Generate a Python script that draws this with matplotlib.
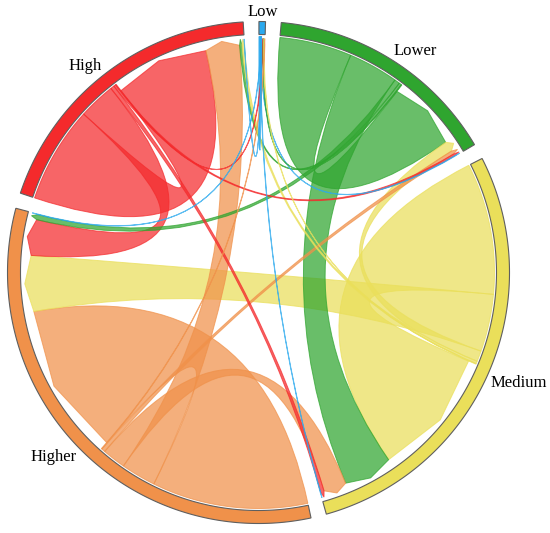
import numpy as np
import matplotlib.pyplot as plt
from matplotlib.path import Path
from matplotlib.patches import PathPatch

# sectors, clockwise from the top
names = ["Low", "Lower", "Medium", "Higher", "High"]
colors = ["#2AA9EE", "#2FA52F", "#EADF5A", "#F0914A", "#F42A2C"]

# flows from each class to [Low, Lower, Medium, Higher, High]
from_low = [0.2, 0.15, 0.12, 0.12, 0.05]
from_lower = [0.15, 17.6, 12.2, 1.3, 0.6]
from_medium = [0.15, 2.6, 32.0, 14.0, 0.6]
from_higher = [0.15, 0.9, 5.7, 38.0, 8.5]
from_high = [0.2, 0.5, 0.9, 9.0, 23.5]

flow = np.array([from_low, from_lower, from_medium, from_higher, from_high])
n = len(names)

cx, cy = 258.5, 272.5
r_out, r_in = 251, 238
r_src = 236
r_dst_end, r_dst_mid = 228, 234
gap = 3.6
start = 0.1
# small nudges of the labels along the ring (degrees)
label_shift = [0, 3.0, -0.6, 1.7, -2.4]

sizes = flow.sum(axis=1) + flow.sum(axis=0)
scale = (360 - n * gap) / sizes.sum()


def pt(a, r):
    t = np.radians(a)
    return cx + r * np.sin(t), cy - r * np.cos(t)


def arc(a0, a1, r, k=None):
    k = k or max(int(abs(a1 - a0) * 2), 2)
    return [pt(a, r) for a in np.linspace(a0, a1, k)]


# lay out the sectors and the sub-arcs inside each one
sector = []
out_arc, in_arc = {}, {}
a = start
for i in range(n):
    s0 = a
    outs = sorted([j for j in range(n) if flow[i, j] > 0], key=lambda j: -flow[i, j])
    for j in outs:
        w = flow[i, j] * scale
        out_arc[(i, j)] = (a, a + w)
        a += w
    ins = sorted([j for j in range(n) if flow[j, i] > 0], key=lambda j: -flow[j, i])
    for j in ins:
        w = flow[j, i] * scale
        in_arc[(j, i)] = (a, a + w)
        a += w
    sector.append((s0, a))
    a += gap

fig = plt.figure(figsize=(5.5, 5.33), dpi=100)
ax = fig.add_axes([0, 0, 1, 1])
ax.set_xlim(0, 550)
ax.set_ylim(533, 0)
ax.axis("off")

# chords, biggest first; the target end sits a little inside the ring
pairs = sorted(out_arc.keys(), key=lambda p: -flow[p])
for (i, j) in pairs:
    s0, s1 = out_arc[(i, j)]
    t0, t1 = in_arc[(i, j)]
    verts = arc(s0, s1, r_src)
    codes = [Path.MOVETO] + [Path.LINETO] * (len(verts) - 1)
    verts += [(cx, cy), pt(t0, r_dst_end)]
    codes += [Path.CURVE3, Path.CURVE3]
    verts += [pt((t0 + t1) / 2, r_dst_mid), pt(t1, r_dst_end)]
    codes += [Path.LINETO, Path.LINETO]
    verts += [(cx, cy), pt(s0, r_src)]
    codes += [Path.CURVE3, Path.CURVE3]
    patch = PathPatch(Path(verts, codes), facecolor=colors[i], edgecolor=colors[i],
                      alpha=0.72, lw=0.7)
    ax.add_patch(patch)

# outer ring and labels
renderer = fig.canvas.get_renderer()
for i, (s0, s1) in enumerate(sector):
    ring = arc(s0, s1, r_out) + arc(s1, s0, r_in)
    ax.add_patch(plt.Polygon(ring, closed=True, facecolor=colors[i],
                             edgecolor="#5F5F5F", lw=0.8))
    mid = (s0 + s1) / 2 + label_shift[i]
    txt = ax.text(0, 0, names[i], ha="center", va="center", fontsize=12,
                  family="Liberation Serif")
    bb = txt.get_window_extent(renderer)
    t = np.radians(mid)
    r = 254 + bb.width / 2 * abs(np.sin(t)) + 6.5 * abs(np.cos(t))
    txt.set_position(pt(mid, r))

fig.savefig("out.png", dpi=100)
